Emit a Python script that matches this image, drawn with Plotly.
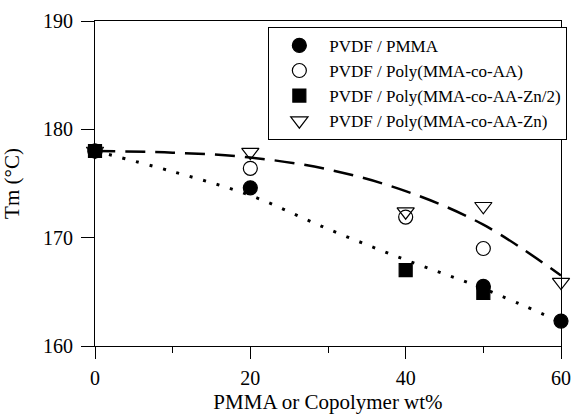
import plotly.graph_objects as go

# ---- data ----
x_pmma = [0, 20, 50, 60]
y_pmma = [178.0, 174.6, 165.5, 162.3]

x_aa = [0, 20, 40, 50]
y_aa = [178.0, 176.4, 171.9, 169.0]

x_zn2 = [0, 40, 50]
y_zn2 = [178.0, 167.0, 164.9]

x_zn = [0, 20, 40, 50, 60]
y_zn = [178.0, 177.9, 172.4, 172.9, 165.9]

# guide curves
x_dash = [0, 10, 20, 30, 40, 50, 60]
y_dash = [178.0, 177.85, 177.4, 176.3, 174.3, 171.2, 166.5]

x_dot = [0, 10, 20, 30, 40, 50, 60]
y_dot = [178.0, 176.1, 173.9, 170.8, 167.95, 165.3, 162.2]

names = ["PVDF / PMMA", "PVDF / Poly(MMA-co-AA)",
         "PVDF / Poly(MMA-co-AA-Zn/2)", "PVDF / Poly(MMA-co-AA-Zn)"]

x_ticks = [0, 20, 40, 60]
y_ticks = [160, 170, 180, 190]

FONT = "Liberation Serif, Times New Roman, serif"

fig = go.Figure()

fig.add_trace(go.Scatter(x=x_dash, y=y_dash, mode="lines", line_shape="spline",
                         line=dict(color="black", width=2.5, dash="20px,10px"),
                         showlegend=False, hoverinfo="skip"))
fig.add_trace(go.Scatter(x=x_dot, y=y_dot, mode="lines", line_shape="spline",
                         line=dict(color="black", width=3, dash="3px,11px"),
                         showlegend=False, hoverinfo="skip"))

mk_line = dict(color="black", width=1.2)
fig.add_trace(go.Scatter(x=x_zn2, y=y_zn2, mode="markers", name=names[2], legendrank=3,
                         marker=dict(symbol="square", size=13, color="black", line=mk_line),
                         cliponaxis=False))
fig.add_trace(go.Scatter(x=x_pmma, y=y_pmma, mode="markers", name=names[0], legendrank=1,
                         marker=dict(symbol="circle", size=14, color="black", line=mk_line),
                         cliponaxis=False))
fig.add_trace(go.Scatter(x=x_aa, y=y_aa, mode="markers", name=names[1], legendrank=2,
                         marker=dict(symbol="circle-open", size=14, color="black", line=mk_line),
                         cliponaxis=False))
fig.add_trace(go.Scatter(x=x_zn, y=y_zn, mode="markers", name=names[3], legendrank=4,
                         marker=dict(symbol="triangle-down-open", size=15, color="black", line=mk_line),
                         cliponaxis=False))

fig.update_layout(
    width=581, height=420,
    margin=dict(l=95, r=10, t=16, b=68),
    paper_bgcolor="white", plot_bgcolor="white",
    font=dict(family=FONT, color="black", size=20),
    legend=dict(
        x=0.372, y=0.982, xanchor="left", yanchor="top",
        bordercolor="black", borderwidth=1, bgcolor="white",
        font=dict(family="Liberation Serif", size=17, color="black"),
        traceorder="normal", tracegroupgap=0, itemwidth=50,
    ),
    showlegend=True,
)

fig.update_xaxes(
    range=[0, 60], tickvals=x_ticks, ticks="outside", ticklen=12, tickwidth=1.2,
    tickcolor="black", showline=True, linecolor="black", linewidth=1.2, mirror=True,
    showgrid=False, zeroline=False, ticklabeloverflow="allow",
    minor=dict(tickvals=[10, 30, 50], ticks="outside", ticklen=6, tickcolor="black", tickwidth=1.2),
    tickfont=dict(size=20), ticklabelstandoff=2,
    title=dict(text="PMMA or Copolymer wt%", font=dict(size=21), standoff=6),
)
fig.update_yaxes(
    range=[160, 190], tickvals=y_ticks, ticks="outside", ticklen=13, tickwidth=1.2,
    tickcolor="black", showline=True, linecolor="black", linewidth=1.2, mirror=True,
    showgrid=False, zeroline=False, ticklabeloverflow="allow",
    tickfont=dict(size=20), ticklabelstandoff=4,
    title=dict(text="Tm (°C)", font=dict(size=21), standoff=18),
)

# remove the default 8px page margin so the figure fills the window exactly
fig.write_html("out.html", config={"displayModeBar": False},
               post_script="document.body.style.margin='0px';")
